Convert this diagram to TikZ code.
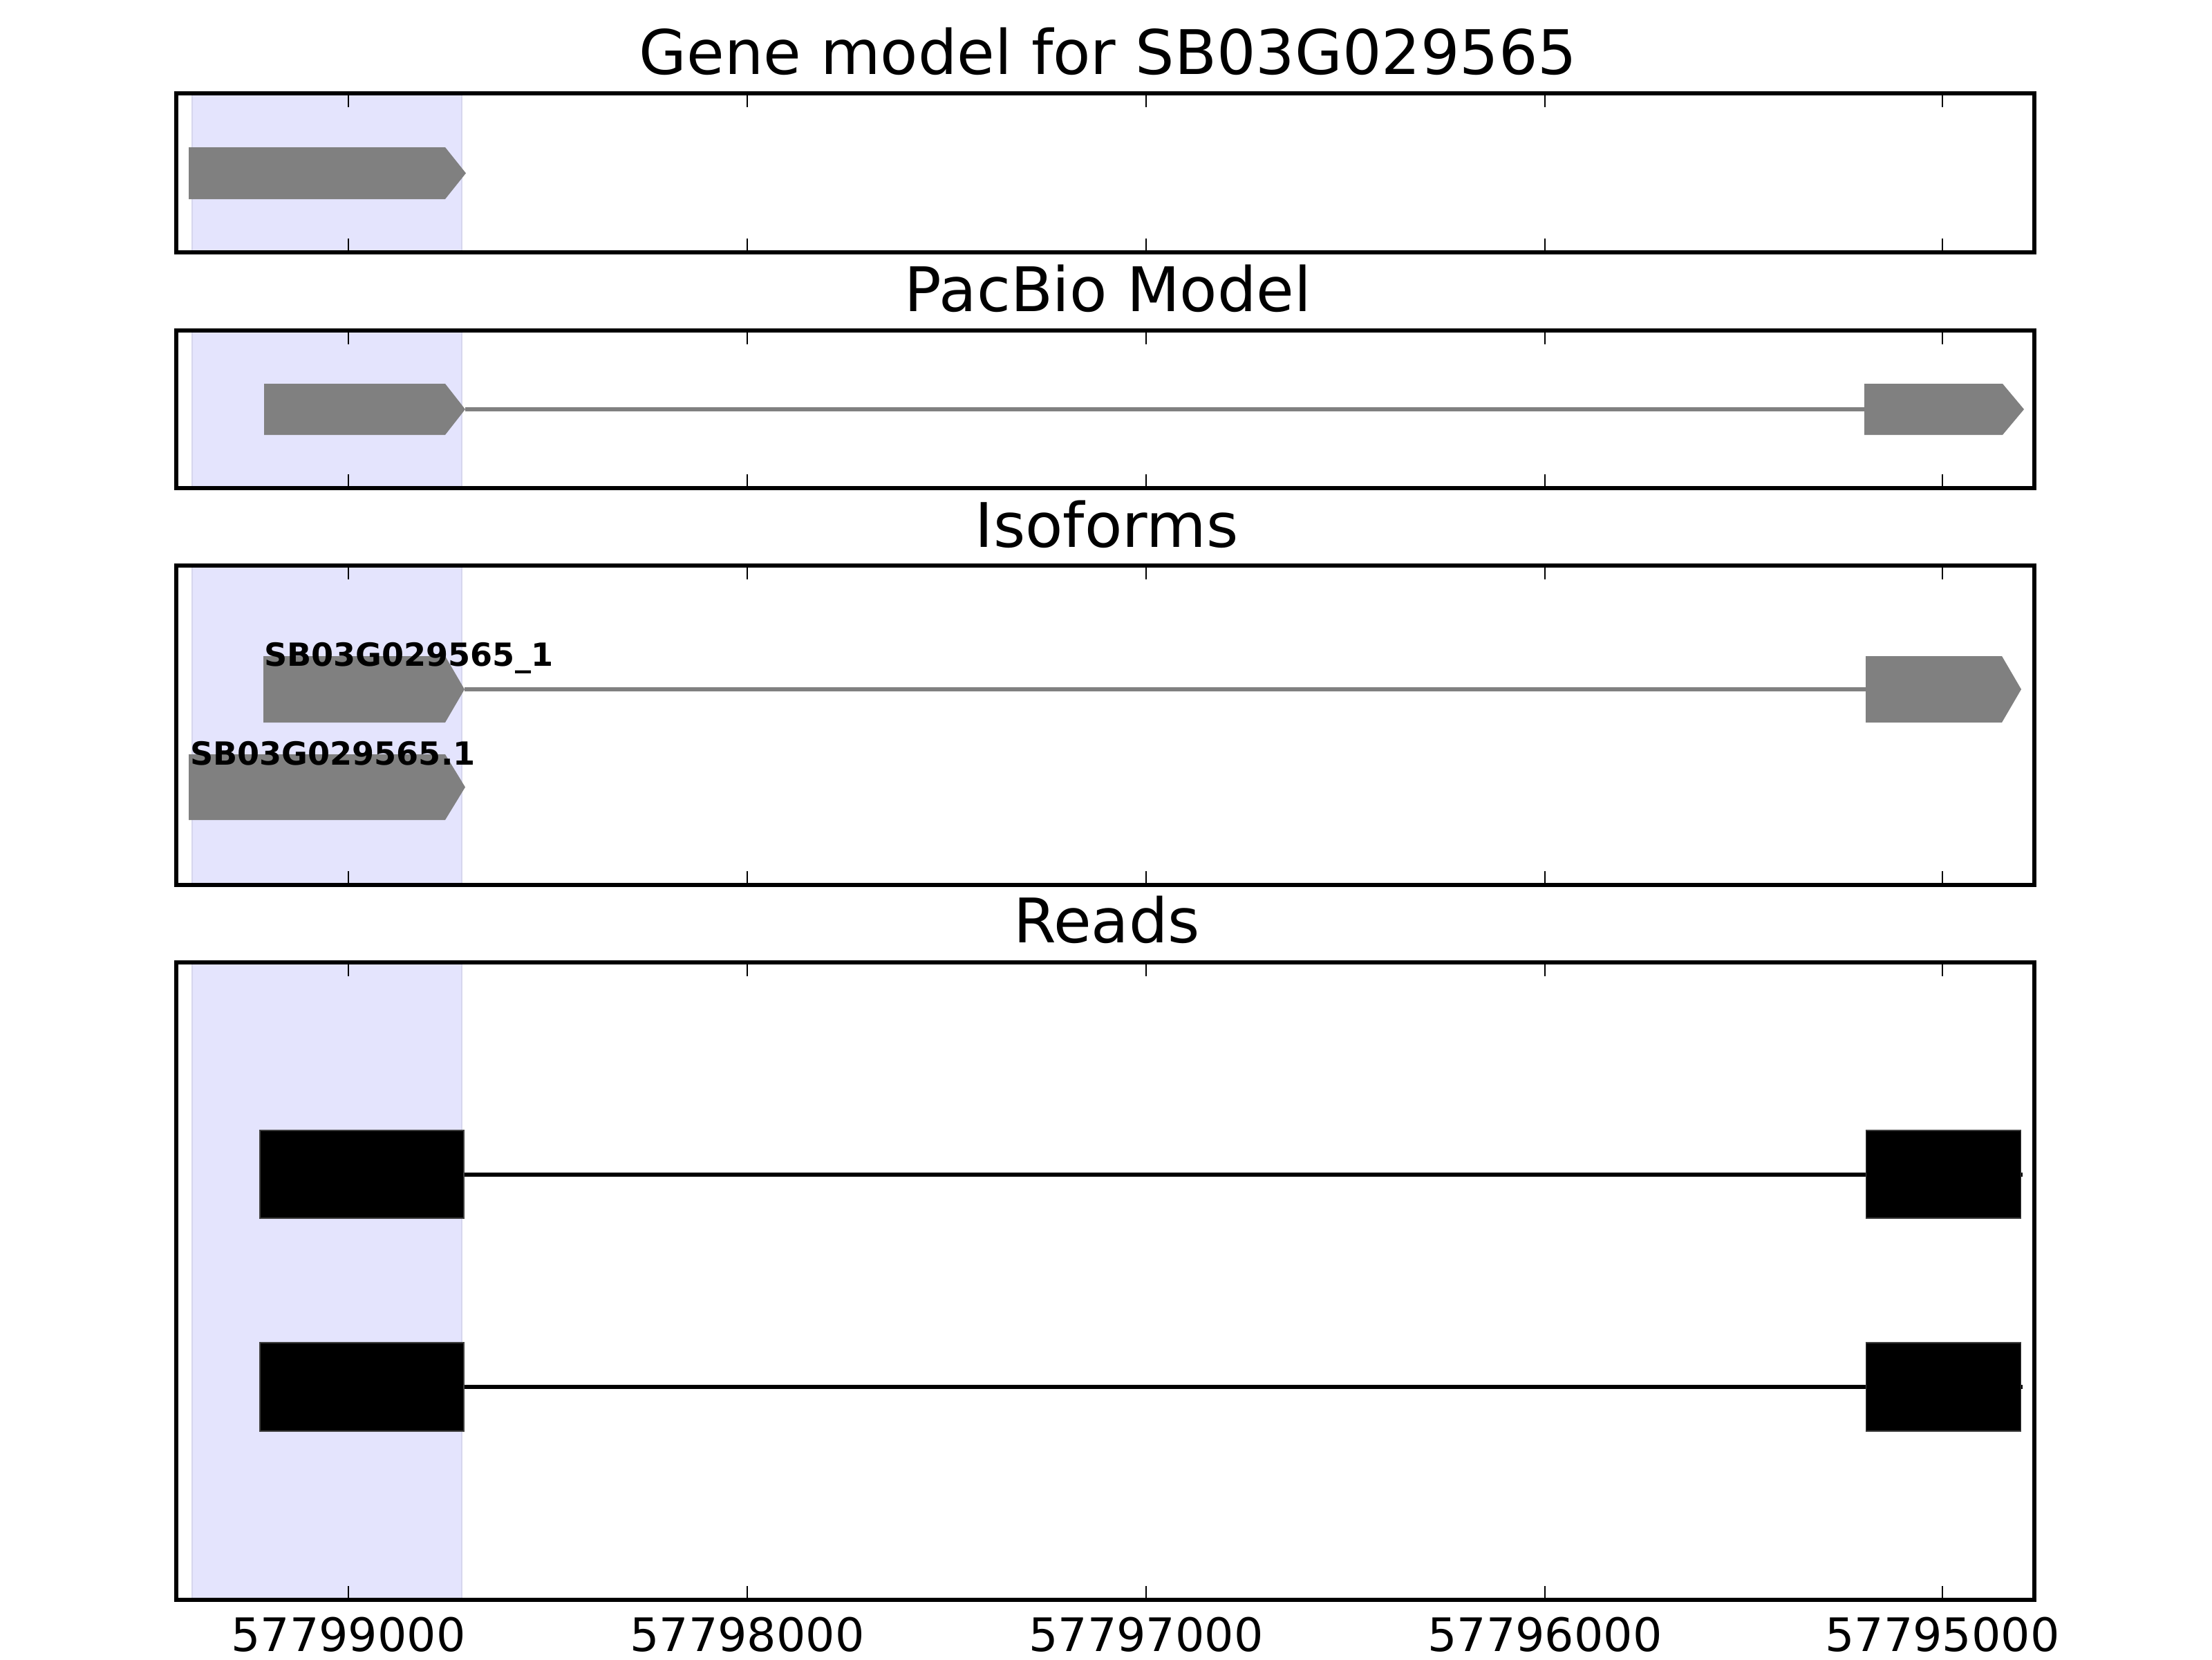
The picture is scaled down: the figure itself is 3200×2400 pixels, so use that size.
\documentclass[tikz,border=0pt]{standalone}
\usepackage{fontspec}
\setmainfont{DejaVu Sans}
\definecolor{hlfill}{RGB}{228,228,253}
\definecolor{hledge}{RGB}{214,214,238}
\definecolor{exongray}{RGB}{128,128,128}
\newcommand\exonarrow[5]{%
  \fill[exon] (#1,#4) -- (#2,#4) -- (#3,{(#4+#5)/2}) -- (#2,#5) -- (#1,#5) -- cycle;}
\newcommand\panelframe[2]{%
  \draw[frame] (255,#1) rectangle (2943,#2);
  \foreach \tx in {504,1081,1658,2235,2810}{
    \draw[tickmark] (\tx,#1) -- ++(0,20);
    \draw[tickmark] (\tx,#2) -- ++(0,-20);}}
\newcommand\hlband[2]{%
  \fill[hlfill] (278,#1) rectangle (668,#2);
  \draw[hledge,line width=0.5pt] (278,#1) -- (278,#2);
  \draw[hledge,line width=0.5pt] (668,#1) -- (668,#2);}
\begin{document}
\begin{tikzpicture}[x=0.18pt,y=-0.18pt,
  frame/.style={draw=black,line width=1pt},
  tickmark/.style={draw=black,line width=0.5pt},
  exon/.style={fill=exongray,draw=none},
  intron/.style={draw=exongray,line width=1pt},
  readexon/.style={fill=black,draw=black!75,line width=0.2pt},
  readline/.style={draw=black,line width=1pt},
  paneltitle/.style={font=\fontsize{16}{19}\selectfont,anchor=base,inner sep=0pt},
  isolabel/.style={font=\fontsize{8.3}{10}\selectfont\bfseries,anchor=base west,inner sep=0pt},
  ticklabel/.style={font=\fontsize{12}{14}\selectfont,anchor=north,inner sep=0pt}]
\useasboundingbox (0,0) rectangle (3200,2400);

% ---------- Panel 1: Gene model ----------
\node[paneltitle] (t1) at (1603,107) {Gene model for SB03G029565};
\hlband{135}{365}
\exonarrow{273}{644}{674}{213}{288}
\panelframe{135}{365}

% ---------- Panel 2: PacBio Model ----------
\node[paneltitle] (t2) at (1603,450) {PacBio Model};
\hlband{478}{706}
\draw[intron] (673,592) -- (2697,592);
\exonarrow{382}{644}{673}{555}{629}
\exonarrow{2697}{2897}{2928}{555}{629}
\panelframe{478}{706}

% ---------- Panel 3: Isoforms ----------
\node[paneltitle] (t3) at (1601,791) {Isoforms};
\hlband{818}{1280}
\draw[intron] (672,997) -- (2699,997);
\exonarrow{381}{644}{672}{949}{1045}
\exonarrow{2699}{2896}{2924}{949}{1045}
\exonarrow{273}{644}{673}{1091}{1186}
\node[isolabel] (l1) at (381,963) {SB03G029565\_1};
\node[isolabel] (l2) at (274,1106) {SB03G029565.1};
\panelframe{818}{1280}

% ---------- Panel 4: Reads ----------
\node[paneltitle] (t4) at (1601,1363) {Reads};
\hlband{1392}{2314}
\draw[readline] (671,1699) -- (2926,1699);
\draw[readline] (671,2006) -- (2926,2006);
\fill[readexon] (376,1635) rectangle (671,1762);
\fill[readexon] (2699,1635) rectangle (2923,1762);
\fill[readexon] (376,1942) rectangle (671,2070);
\fill[readexon] (2699,1942) rectangle (2923,2070);
\panelframe{1392}{2314}

% ---------- x axis labels ----------
\node[ticklabel] (x1) at (504,2338) {57799000};
\node[ticklabel] (x2) at (1081,2338) {57798000};
\node[ticklabel] (x3) at (1658,2338) {57797000};
\node[ticklabel] (x4) at (2235,2338) {57796000};
\node[ticklabel] (x5) at (2810,2338) {57795000};
\end{tikzpicture}
\end{document}
